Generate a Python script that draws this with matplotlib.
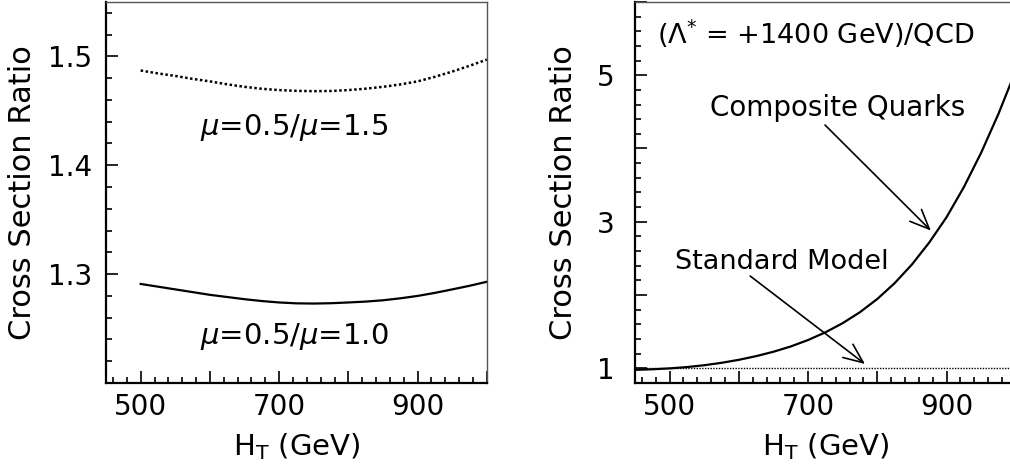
"""Cross section ratio vs H_T: scale variation and composite-quark ratio."""
import numpy as np
import matplotlib
matplotlib.use('Agg')
import matplotlib.pyplot as plt
from matplotlib.ticker import MultipleLocator, FuncFormatter

# left panel: scale ratios
ht_scale = [500, 525, 550, 575, 600, 625, 650, 675, 700, 725, 750,
            775, 800, 825, 850, 875, 900, 925, 950, 975, 1000]
ratio_mu15 = [1.4870, 1.4843, 1.4820, 1.4793, 1.4770, 1.4743, 1.4720, 1.4702, 1.4690, 1.4683, 1.4680,
              1.4682, 1.4690, 1.4703, 1.4720, 1.4742, 1.4770, 1.4812, 1.4860, 1.4913, 1.4970]
ratio_mu10 = [1.2910, 1.2885, 1.2860, 1.2835, 1.2810, 1.2790, 1.2770, 1.2753, 1.2740, 1.2732, 1.2730,
              1.2733, 1.2740, 1.2748, 1.2760, 1.2778, 1.2800, 1.2828, 1.2860, 1.2893, 1.2930]

# right panel: composite quarks / QCD
ht_cq = [450, 475, 500, 525, 550, 575, 600, 625, 650, 675, 700, 725,
         750, 775, 800, 825, 850, 875, 900, 925, 950, 975, 1000]
ratio_cq = [0.980, 0.988, 1.000, 1.018, 1.043, 1.076, 1.117, 1.167, 1.227, 1.299, 1.387, 1.492,
            1.617, 1.767, 1.947, 2.162, 2.417, 2.717, 3.062, 3.472, 3.942, 4.472, 5.062]
ht_sm = [450, 1000]
ratio_sm = [1.0, 1.0]

x_labels = [500, 700, 900]

plt.rcParams['font.family'] = 'DejaVu Sans'
plt.rcParams['mathtext.fontset'] = 'dejavusans'

fig = plt.figure(figsize=(10.1, 4.7), dpi=100)
ax1 = fig.add_axes([0.105, 0.185, 0.377, 0.811])
ax2 = fig.add_axes([0.6287, 0.185, 0.377, 0.811])


def style_axes(ax, ymajor, yminor, ylabels, ypad):
    ax.set_xlim(450, 1000)
    ax.xaxis.set_major_locator(MultipleLocator(100))
    ax.xaxis.set_minor_locator(MultipleLocator(20))
    ax.xaxis.set_major_formatter(FuncFormatter(
        lambda v, p: f'{v:.0f}' if round(v) in x_labels else ''))
    ax.yaxis.set_major_locator(MultipleLocator(ymajor))
    ax.yaxis.set_minor_locator(MultipleLocator(yminor))
    ax.yaxis.set_major_formatter(FuncFormatter(ylabels))
    ax.tick_params(which='both', direction='in', top=False, right=False, width=1.2)
    ax.tick_params(which='major', length=8.5)
    ax.tick_params(which='minor', length=4.3)
    ax.tick_params(axis='x', which='major', labelsize=20, pad=7)
    ax.tick_params(axis='y', which='major', labelsize=20, pad=ypad)
    for side in ['left', 'bottom']:
        ax.spines[side].set_linewidth(1.6)
    for side in ['top', 'right']:
        ax.spines[side].set_linewidth(1.0)
        ax.spines[side].set_color('#555555')
    ax.set_xlabel(r'H$_\mathrm{T}$ (GeV)', fontsize=21, va='center')
    ax.xaxis.set_label_coords(0.5, -0.168)
    ax.set_ylabel('Cross Section Ratio', fontsize=22, va='center')


# left panel
ax1.plot(ht_scale, ratio_mu15, color='k', lw=1.8, ls=(0, (1, 1)))
ax1.plot(ht_scale, ratio_mu10, color='k', lw=1.6)
ax1.set_ylim(1.2, 1.55)
style_axes(ax1, 0.1, 0.02,
           lambda v, p: f'{v:.1f}' if round(v * 10) in (13, 14, 15) else '', 10)
ax1.yaxis.set_label_coords(-0.2205, 0.5)
ax1.text(722, 1.4345, r'$\mu$=0.5/$\mu$=1.5', fontsize=21, ha='center', va='center')
ax1.text(722, 1.2424, r'$\mu$=0.5/$\mu$=1.0', fontsize=21, ha='center', va='center')

# right panel
ax2.plot(ht_sm, ratio_sm, color='k', lw=1.0, ls=(0, (1, 1)))
ax2.plot(ht_cq, ratio_cq, color='k', lw=1.6)
ax2.set_ylim(0.8, 6.0)
style_axes(ax2, 1, 0.2,
           lambda v, p: f'{v:.0f}' if round(v) in (1, 3, 5) else '', 15)
ax2.yaxis.set_label_coords(-0.189, 0.5)
ax2.text(482, 5.57, r'($\Lambda^{*}$ = +1400 GeV)/QCD', fontsize=19.5, ha='left', va='center')
ax2.text(743, 4.55, 'Composite Quarks', fontsize=20, ha='center', va='center')
ax2.text(661.5, 2.45, 'Standard Model', fontsize=19.5, ha='center', va='center')

arrow = dict(arrowstyle='->,head_length=0.7,head_width=0.3', lw=1.2, color='k',
             shrinkA=0, shrinkB=0, mutation_scale=20)
ax2.annotate('', xy=(877.4, 2.88), xytext=(724.5, 4.32), arrowprops=arrow)
ax2.annotate('', xy=(782.2, 1.06), xytext=(616.4, 2.26), arrowprops=arrow)

fig.savefig('out.png', dpi=100)
